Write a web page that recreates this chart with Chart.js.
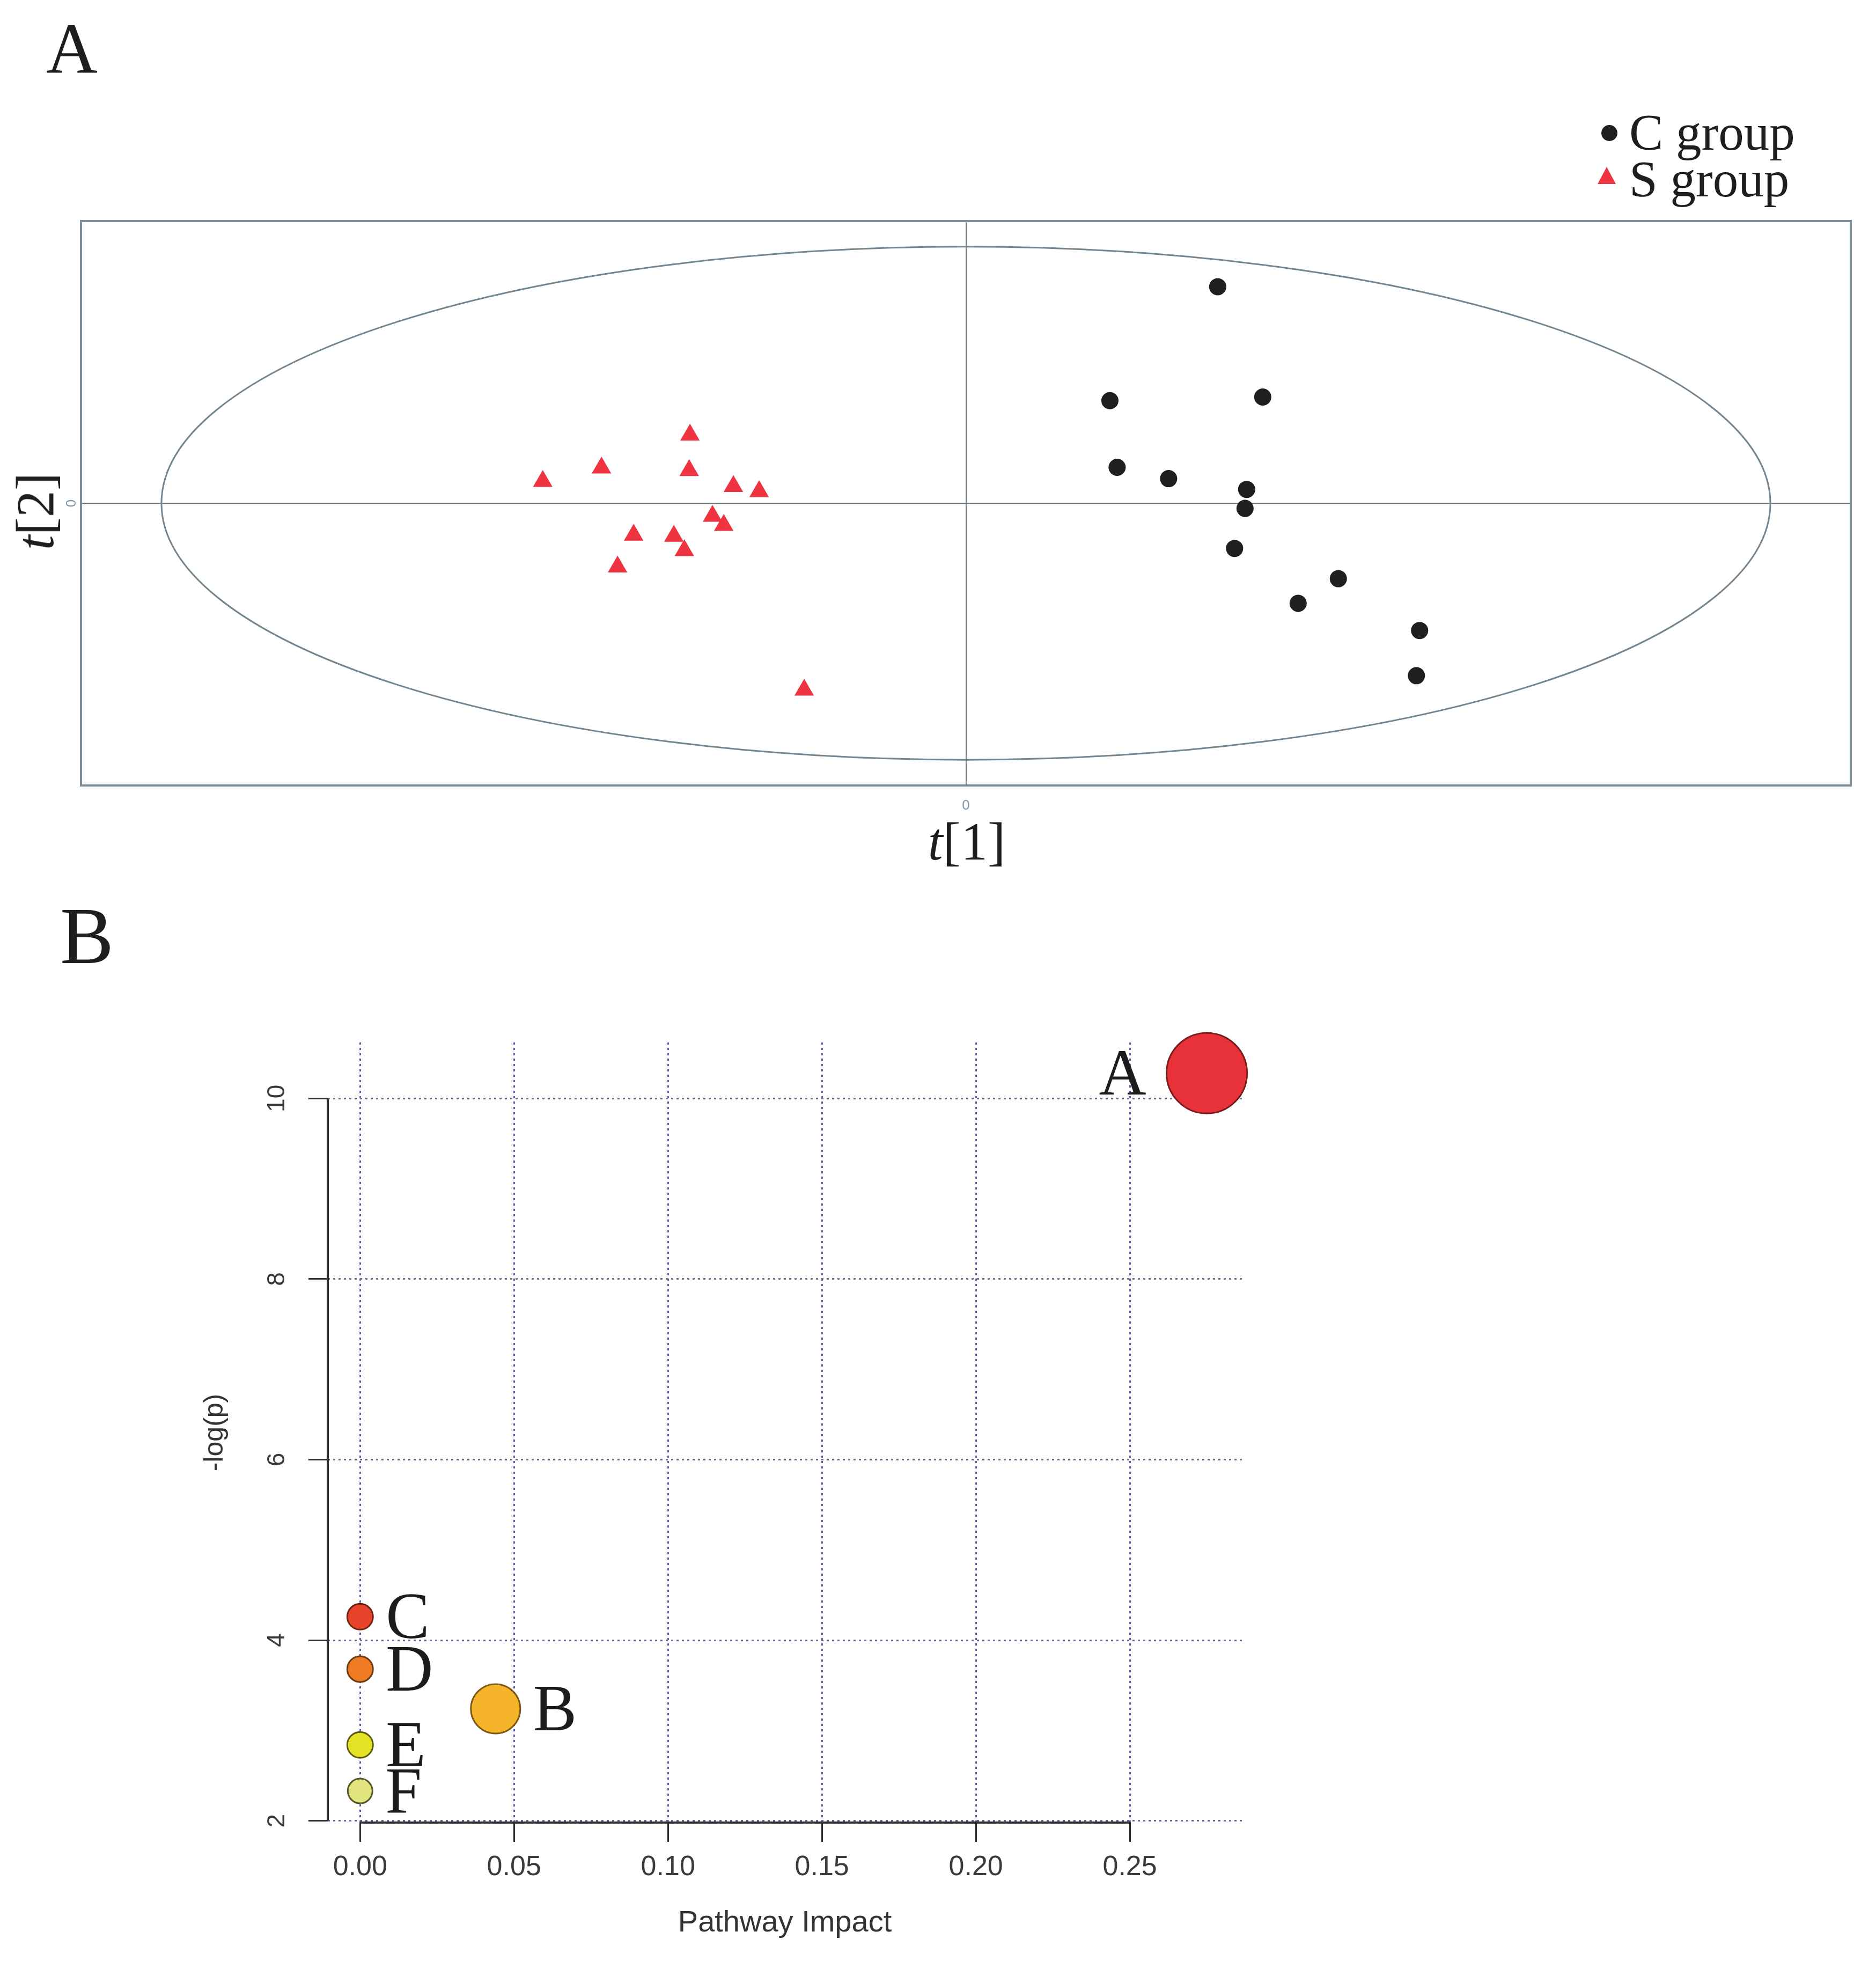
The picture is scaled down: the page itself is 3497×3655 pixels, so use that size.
<!DOCTYPE html>
<html>
<head>
<meta charset="utf-8">
<script src="https://cdn.jsdelivr.net/npm/chart.js@4.4.0/dist/chart.umd.min.js"></script>
<style>
  html, body { margin: 0; padding: 0; background: #fff; }
  #page { position: relative; width: 3497px; height: 3655px; background: #fff; overflow: hidden; }
  canvas { position: absolute; left: 0; }
  #scoreCanvas { top: 0; }
  #pathwayCanvas { top: 1650px; }
  .txt { position: absolute; font-family: "Liberation Serif", "Times New Roman", serif; color: #1e1e1e; line-height: 1; white-space: nowrap; }
  .legend-row { position: absolute; left: 2970px; height: 95px; width: 500px; }
  .legend-mark { position: absolute; }
  .legend-mark.circle { left: 15px; top: 33px; width: 30px; height: 30px; border-radius: 50%; }
  .legend-mark.triangle { left: 8px; top: 24px; width: 34px; height: 32px; clip-path: polygon(50% 0, 100% 100%, 0 100%); }
  .legend-row .txt { left: 67px; top: 0; font-size: 95px; }
</style>
</head>
<body>
<div id="page">
  <canvas id="scoreCanvas" width="3497" height="1650"></canvas>
  <canvas id="pathwayCanvas" width="3497" height="2005"></canvas>
  <div class="txt" style="left:86px; top:24px; font-size:133px;">A</div>
  <div class="txt" style="left:112px; top:1669px; font-size:150px;">B</div>
  <div class="txt" style="left:1802px; top:1519px; font-size:100px; transform:translateX(-50%);"><i>t</i>[1]</div>
  <div class="txt" style="left:66px; top:953px; font-size:100px; transform:translate(-50%,-50%) rotate(-90deg);"><i>t</i>[2]</div>
  <div id="legendA"></div>
</div>

<script>
// Panel A - score plot (t[1] vs t[2])
const cGroupT1 = [3.13, 1.79, 3.69, 1.88, 2.52, 3.49, 3.47, 3.34, 4.63, 4.13, 5.64, 5.60];
const cGroupT2 = [4.22, 2.00, 2.07, 0.70, 0.48, 0.27, -0.10, -0.88, -1.47, -1.95, -2.48, -3.36];
const sGroupT1 = [-5.26, -4.53, -3.43, -3.44, -2.89, -2.57, -3.15, -3.01, -4.13, -3.63, -3.50, -4.33, -2.01];
const sGroupT2 = [0.43, 0.69, 1.33, 0.64, 0.33, 0.23, -0.25, -0.43, -0.62, -0.64, -0.92, -1.24, -3.64];
const scoreTicks = [0];
const ellipseT1 = 10;   // Hotelling T2 limit, t[1] semi-axis
const ellipseT2 = 5;    // Hotelling T2 limit, t[2] semi-axis

// Panel B - pathway analysis
const pathwayNames = ['A', 'B', 'C', 'D', 'E', 'F'];
const pathwayImpact = [0.275, 0.044, 0, 0, 0, 0];
const pathwayLogP = [10.28, 3.24, 4.26, 3.68, 2.84, 2.33];
const impactTicks = [0, 0.05, 0.10, 0.15, 0.20, 0.25];
const logPTicks = [2, 4, 6, 8, 10];

// estilos de las burbujas
const bubbleRadius = [75, 46, 24, 24, 24, 23];
const bubbleFill = ['#e8323a', '#f6b42a', '#e8442c', '#f07b25', '#e6e226', '#e2e47e'];
const bubbleEdge = ['#7a1c1c', '#7b5a14', '#6b2410', '#6b3a12', '#5a5a12', '#56562c'];
const labelSide = ['left', 'right', 'right', 'right', 'right', 'right'];

Chart.defaults.font.family = '"Liberation Sans", Arial, sans-serif';
Chart.defaults.color = '#333';

const scoreFramePlugin = {
    id: 'scoreFrame',
    beforeDatasetsDraw(chart) {
        const { ctx, chartArea: a, scales: { x, y } } = chart;
        const cx = x.getPixelForValue(0);
        const cy = y.getPixelForValue(0);
        const rx = x.getPixelForValue(ellipseT1) - cx;
        const ry = cy - y.getPixelForValue(ellipseT2);
        ctx.save();
        ctx.setLineDash([]);
        ctx.beginPath();
        ctx.ellipse(cx, cy, rx, ry, 0, 0, 2 * Math.PI);
        ctx.strokeStyle = '#74858f';
        ctx.lineWidth = 3;
        ctx.stroke();
        ctx.strokeStyle = '#7f8f99';
        ctx.lineWidth = 4;
        ctx.strokeRect(a.left, a.top, a.right - a.left, a.bottom - a.top);
        ctx.restore();
    }
};

const pathwayAxesPlugin = {
    id: 'pathwayAxes',
    beforeDatasetsDraw(chart) {
        const { ctx, chartArea: a, scales: { x, y } } = chart;
        ctx.save();
        ctx.setLineDash([]);
        ctx.strokeStyle = '#2e2e2e';
        ctx.lineWidth = 4;
        ctx.beginPath();
        ctx.moveTo(a.left, y.getPixelForValue(logPTicks[0]));
        ctx.lineTo(a.left, y.getPixelForValue(logPTicks[logPTicks.length - 1]));
        ctx.moveTo(x.getPixelForValue(impactTicks[0]), a.bottom);
        ctx.lineTo(x.getPixelForValue(impactTicks[impactTicks.length - 1]), a.bottom);
        ctx.stroke();
        ctx.restore();
    }
};

const pathwayLabelPlugin = {
    id: 'pathwayLabels',
    afterDatasetsDraw(chart) {
        const ctx = chart.ctx;
        const meta = chart.getDatasetMeta(0);
        ctx.save();
        ctx.font = '122px "Liberation Serif", "Times New Roman", serif';
        ctx.fillStyle = '#1c1c1c';
        ctx.textBaseline = 'alphabetic';
        meta.data.forEach((pt, i) => {
            const r = bubbleRadius[i];
            const left = labelSide[i] === 'left';
            ctx.textAlign = left ? 'right' : 'left';
            const gx = left ? pt.x - r - 38 : pt.x + r + 24;
            ctx.fillText(pathwayNames[i], gx, pt.y + 40);
        });
        ctx.restore();
    }
};

function toPoints(xs, ys) {
    return xs.map((v, i) => ({ x: v, y: ys[i] }));
}

const scoreChart = new Chart(document.getElementById('scoreCanvas'), {
    type: 'scatter',
    data: {
        datasets: [{
            label: 'C group',
            data: toPoints(cGroupT1, cGroupT2),
            pointStyle: 'circle',
            pointRadius: 16,
            backgroundColor: '#1f1f1f',
            borderColor: '#1f1f1f',
            borderWidth: 0
        }, {
            label: 'S group',
            data: toPoints(sGroupT1, sGroupT2),
            pointStyle: 'triangle',
            pointRadius: 21,
            backgroundColor: '#ee3440',
            borderColor: '#ee3440',
            borderWidth: 0
        }]
    },
    options: {
        responsive: false,
        animation: false,
        devicePixelRatio: 1,
        layout: { padding: { top: 412, right: 47, left: 0, bottom: 0 } },
        plugins: { legend: { display: false }, tooltip: { enabled: false } },
        scales: {
            x: {
                type: 'linear',
                min: -11,
                max: 11,
                afterBuildTicks: s => { s.ticks = scoreTicks.map(v => ({ value: v })); },
                afterFit: s => { s.height = 186; },
                grid: { color: '#6d7d88', lineWidth: 2, drawTicks: false },
                border: { display: false },
                ticks: { font: { size: 26 }, color: '#7f97a8', padding: 22, autoSkip: false }
            },
            y: {
                type: 'linear',
                min: -5.5,
                max: 5.5,
                afterBuildTicks: s => { s.ticks = scoreTicks.map(v => ({ value: v })); },
                afterFit: s => { s.width = 151; },
                grid: { color: '#6d7d88', lineWidth: 2, drawTicks: false },
                border: { display: false },
                ticks: { font: { size: 26 }, color: '#7f97a8', padding: 10, minRotation: 90, maxRotation: 90, crossAlign: 'center', autoSkip: false }
            }
        }
    },
    plugins: [scoreFramePlugin]
});

function buildLegend(chart) {
    const holder = document.getElementById('legendA');
    chart.data.datasets.forEach((ds, i) => {
        const row = document.createElement('div');
        row.className = 'legend-row';
        row.style.top = (200 + i * 87) + 'px';
        const mark = document.createElement('span');
        mark.className = 'legend-mark ' + ds.pointStyle;
        mark.style.background = ds.backgroundColor;
        const label = document.createElement('span');
        label.className = 'txt';
        label.textContent = ds.label;
        row.appendChild(mark);
        row.appendChild(label);
        holder.appendChild(row);
    });
}
buildLegend(scoreChart);

const pathwayChart = new Chart(document.getElementById('pathwayCanvas'), {
    type: 'bubble',
    data: {
        datasets: [{
            label: 'Pathways',
            data: pathwayImpact.map((v, i) => ({ x: v, y: pathwayLogP[i], r: bubbleRadius[i] })),
            backgroundColor: bubbleFill,
            borderColor: bubbleEdge,
            borderWidth: 3,
            clip: false
        }]
    },
    options: {
        responsive: false,
        animation: false,
        devicePixelRatio: 1,
        layout: { padding: { top: 293, right: 1182, left: 0, bottom: 0 } },
        plugins: { legend: { display: false }, tooltip: { enabled: false } },
        scales: {
            x: {
                type: 'linear',
                min: -0.0105,
                max: 0.2864,
                afterBuildTicks: s => { s.ticks = impactTicks.map(v => ({ value: v })); },
                afterFit: s => { s.height = 258; },
                grid: { color: '#5c5cb0', lineWidth: 3, tickColor: '#2e2e2e', tickWidth: 3, tickLength: 36 },
                border: { display: false, dash: [4, 6] },
                ticks: {
                    callback: v => Number(v).toFixed(2),
                    font: { size: 52 },
                    color: '#3a3a3a',
                    padding: 16,
                    autoSkip: false,
                    maxRotation: 0
                },
                title: {
                    display: true,
                    text: 'Pathway Impact',
                    font: { size: 56 },
                    color: '#333',
                    padding: { top: 0, bottom: 37 }
                }
            },
            y: {
                type: 'linear',
                min: 1.98,
                max: 10.62,
                afterBuildTicks: s => { s.ticks = logPTicks.map(v => ({ value: v })); },
                afterFit: s => { s.width = 611; },
                grid: { color: '#6a6a90', lineWidth: 3, tickColor: '#2e2e2e', tickWidth: 3, tickLength: 36 },
                border: { display: false, dash: [4, 6] },
                ticks: {
                    font: { size: 46 },
                    color: '#3a3a3a',
                    padding: 32,
                    minRotation: 90,
                    maxRotation: 90,
                    crossAlign: 'center',
                    autoSkip: false
                },
                title: {
                    display: true,
                    text: '-log(p)',
                    font: { size: 50 },
                    color: '#333',
                    padding: { top: 371, bottom: 0 }
                }
            }
        }
    },
    plugins: [pathwayAxesPlugin, pathwayLabelPlugin]
});
</script>
</body>
</html>
